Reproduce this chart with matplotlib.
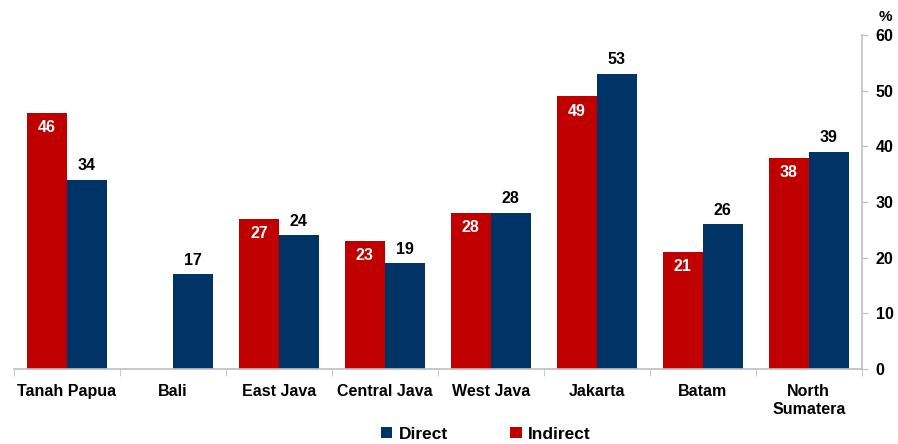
import numpy as np
import matplotlib.pyplot as plt
from matplotlib.patches import Patch

plt.rcParams['font.family'] = ['Liberation Sans', 'DejaVu Sans']
plt.rcParams['font.weight'] = 'bold'

regions = ['Tanah Papua', 'Bali', 'East Java', 'Central Java', 'West Java',
           'Jakarta', 'Batam', 'North\nSumatera']
indirect = [46, np.nan, 27, 23, 28, 49, 21, 38]
direct = [34, 17, 24, 19, 28, 53, 26, 39]

red = '#C00000'
navy = '#003366'
grey = '#BFBFBF'

fig = plt.figure(figsize=(8.98, 4.44), dpi=100)
ax = fig.add_axes([0.0156, 0.169, 0.944, 0.752])

x = np.arange(len(regions))
w = 0.377
ax.bar(x - w / 2, indirect, w, color=red, label='Indirect')
ax.bar(x + w / 2, direct, w, color=navy, label='Direct')

# value labels: indirect inside bar top (white), direct above bar (black)
for xi, v in zip(x, indirect):
    if not np.isnan(v):
        ax.text(xi - w / 2, v - 1.3, f'{v:.0f}', ha='center', va='top',
                color='white', fontsize=11.5, fontweight='bold')
for xi, v in zip(x, direct):
    ax.text(xi + w / 2, v + 1.2, f'{v:.0f}', ha='center', va='bottom',
            color='black', fontsize=11.5, fontweight='bold')

ax.set_xlim(-0.5, len(regions) - 0.5)
ax.set_ylim(0, 60)

ax.yaxis.tick_right()
ax.set_yticks(range(0, 61, 10))
ax.tick_params(axis='y', direction='out', length=4, color=grey, labelsize=11.5,
               pad=6)
ax.set_xticks(x)
ax.set_xticklabels(regions, fontsize=11.5, fontweight='bold')
ax.set_xticks(np.arange(-0.5, len(regions), 1), minor=True)
ax.tick_params(axis='x', which='major', length=0, pad=11)
ax.tick_params(axis='x', which='minor', direction='out', length=5, color=grey)

for side in ['top', 'left']:
    ax.spines[side].set_visible(False)
for side in ['bottom', 'right']:
    ax.spines[side].set_color(grey)
    ax.spines[side].set_linewidth(1.2)

fig.text(0.993, 0.962, '%', ha='right', va='center', fontsize=11,
         fontweight='bold')

handles = [Patch(facecolor=navy, label='Direct'),
           Patch(facecolor=red, label='Indirect')]
fig.legend(handles=handles, loc='center', bbox_to_anchor=(0.541, 0.022),
           ncol=2, frameon=False, fontsize=12.5, handlelength=0.65,
           handleheight=0.65, handletextpad=0.35, columnspacing=3.6)

fig.savefig('out.png', dpi=100)
